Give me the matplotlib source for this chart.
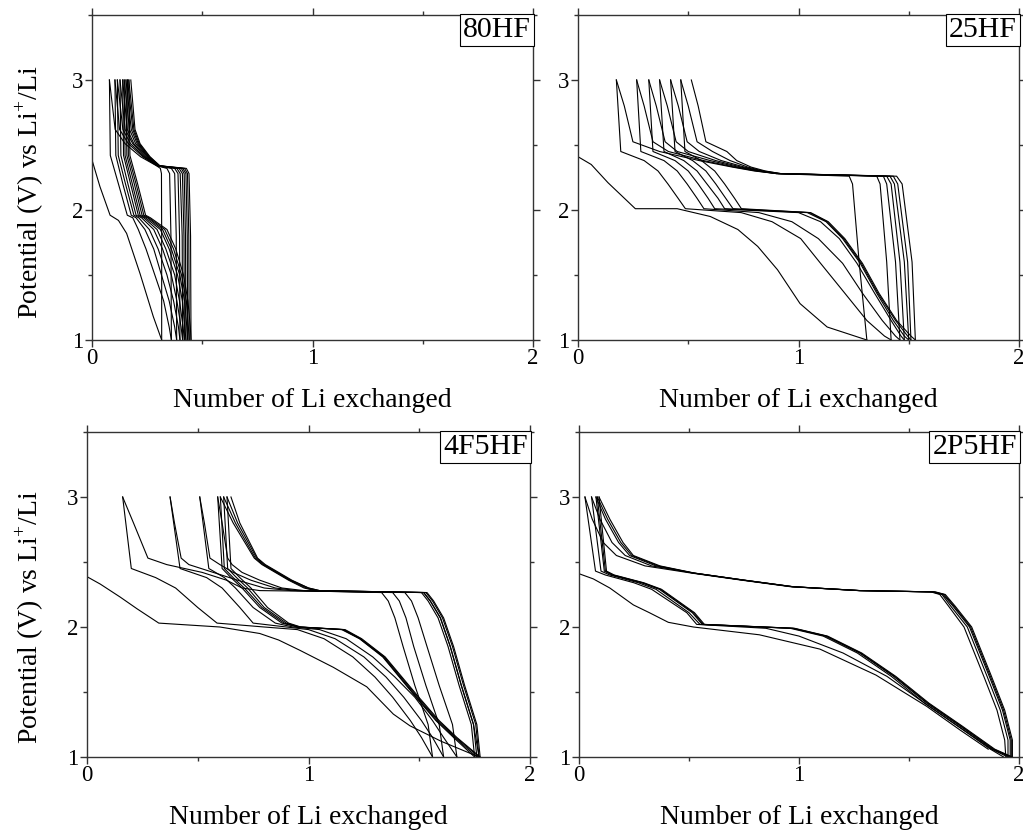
import matplotlib
matplotlib.use("Agg")
import matplotlib.pyplot as plt
from matplotlib.ticker import MultipleLocator

plt.rcParams['font.family'] = 'serif'
plt.rcParams['font.serif'] = ['Liberation Serif', 'DejaVu Serif']
plt.rcParams['mathtext.fontset'] = 'custom'
plt.rcParams['mathtext.rm'] = 'Liberation Serif'

# ---------------- 80HF ----------------
hf80_first_x = [0, 0.036, 0.082, 0.12, 0.157, 0.218, 0.278, 0.316]
hf80_first_v = [2.385, 2.18, 1.96, 1.92, 1.82, 1.51, 1.18, 1.0]
hf80_dis_v = [3.0, 2.42, 2.2, 1.96, 1.94, 1.85, 1.7, 1.5, 1.3, 1.1, 1.0]
hf80_dis_x = [
    [0.079, 0.083, 0.12, 0.16, 0.185, 0.21, 0.245, 0.285, 0.325, 0.35, 0.36],
    [0.104, 0.108, 0.14, 0.178, 0.20, 0.24, 0.28, 0.315, 0.35, 0.375, 0.384],
    [0.115, 0.119, 0.152, 0.19, 0.212, 0.26, 0.30, 0.34, 0.37, 0.392, 0.399],
    [0.127, 0.131, 0.163, 0.20, 0.225, 0.28, 0.32, 0.36, 0.385, 0.404, 0.411],
    [0.139, 0.143, 0.175, 0.21, 0.235, 0.295, 0.335, 0.375, 0.397, 0.413, 0.419],
    [0.146, 0.15, 0.183, 0.218, 0.243, 0.31, 0.35, 0.388, 0.41, 0.421, 0.426],
    [0.154, 0.158, 0.192, 0.227, 0.252, 0.32, 0.36, 0.398, 0.42, 0.43, 0.434],
    [0.161, 0.165, 0.2, 0.235, 0.258, 0.33, 0.37, 0.406, 0.428, 0.437, 0.441],
    [0.167, 0.172, 0.207, 0.243, 0.265, 0.34, 0.38, 0.415, 0.435, 0.446, 0.449],
]
hf80_chg_v = [1.0, 1.8, 2.28, 2.32, 2.34, 2.41, 2.51, 2.62, 3.0]
hf80_chg_x = [
    [0.316, 0.316, 0.315, 0.31, 0.293, 0.22, 0.15, 0.105, 0.079],
    [0.36, 0.358, 0.352, 0.34, 0.295, 0.23, 0.165, 0.125, 0.104],
    [0.384, 0.382, 0.375, 0.36, 0.297, 0.235, 0.175, 0.14, 0.115],
    [0.399, 0.397, 0.39, 0.375, 0.299, 0.24, 0.185, 0.15, 0.127],
    [0.411, 0.409, 0.40, 0.385, 0.30, 0.245, 0.19, 0.16, 0.139],
    [0.419, 0.417, 0.41, 0.395, 0.302, 0.25, 0.198, 0.17, 0.146],
    [0.426, 0.424, 0.418, 0.405, 0.304, 0.253, 0.205, 0.178, 0.154],
    [0.434, 0.432, 0.426, 0.412, 0.305, 0.256, 0.21, 0.185, 0.161],
    [0.441, 0.439, 0.433, 0.42, 0.306, 0.26, 0.214, 0.19, 0.167],
    [0.449, 0.447, 0.44, 0.428, 0.308, 0.263, 0.218, 0.195, 0.176],
]

# ---------------- 25HF ----------------
hf25_first_x = [0, 0.06, 0.136, 0.195, 0.26, 0.45, 0.60, 0.725, 0.815, 0.905, 1.007, 1.13, 1.31]
hf25_first_v = [2.41, 2.35, 2.21, 2.115, 2.01, 2.01, 1.95, 1.85, 1.72, 1.54, 1.28, 1.10, 1.0]
hf25_dis_v = [3.0, 2.45, 2.38, 2.30, 2.20, 2.09, 2.01, 1.98, 1.91, 1.78, 1.59, 1.36, 1.15, 1.03, 1.0]
hf25_dis_x = [
    [0.174, 0.194, 0.30, 0.363, 0.408, 0.454, 0.487, 0.74, 0.88, 1.01, 1.10, 1.21, 1.31, 1.39, 1.42],
    [0.266, 0.285, 0.39, 0.45, 0.495, 0.54, 0.571, 0.82, 0.97, 1.09, 1.20, 1.29, 1.38, 1.44, 1.46],
    [0.321, 0.34, 0.44, 0.50, 0.545, 0.59, 0.62, 1.0, 1.10, 1.185, 1.265, 1.345, 1.42, 1.465, 1.48],
    [0.370, 0.39, 0.48, 0.54, 0.585, 0.635, 0.665, 1.04, 1.125, 1.20, 1.28, 1.355, 1.43, 1.48, 1.50],
    [0.420, 0.44, 0.52, 0.58, 0.625, 0.67, 0.703, 1.05, 1.13, 1.205, 1.285, 1.36, 1.44, 1.495, 1.51],
    [0.466, 0.485, 0.56, 0.62, 0.665, 0.71, 0.741, 1.055, 1.135, 1.21, 1.29, 1.365, 1.445, 1.51, 1.53],
]
hf25_chg_v = [1.0, 1.6, 2.2, 2.26, 2.28, 2.30, 2.33, 2.38, 2.45, 2.525, 2.8, 3.0]
hf25_chg_x = [
    [1.31, 1.275, 1.245, 1.23, 0.90, 0.80, 0.70, 0.55, 0.37, 0.249, 0.21, 0.174],
    [1.42, 1.40, 1.37, 1.355, 0.90, 0.81, 0.71, 0.57, 0.41, 0.34, 0.30, 0.266],
    [1.46, 1.44, 1.40, 1.385, 0.90, 0.82, 0.725, 0.60, 0.45, 0.395, 0.355, 0.321],
    [1.48, 1.46, 1.42, 1.40, 0.91, 0.825, 0.74, 0.625, 0.50, 0.445, 0.405, 0.370],
    [1.50, 1.48, 1.435, 1.415, 0.91, 0.83, 0.755, 0.65, 0.55, 0.495, 0.455, 0.420],
    [1.51, 1.495, 1.45, 1.43, 0.92, 0.84, 0.77, 0.69, 0.61, 0.54, 0.50, 0.466],
    [1.53, 1.515, 1.47, 1.445, 0.92, 0.85, 0.785, 0.72, 0.675, 0.58, 0.545, 0.514],
]

# ---------------- 4F5HF ----------------
f4_first_x = [0, 0.06, 0.15, 0.226, 0.324, 0.60, 0.78, 0.865, 0.962, 1.112, 1.263, 1.383, 1.458, 1.60, 1.77]
f4_first_v = [2.387, 2.33, 2.23, 2.14, 2.03, 2.0, 1.95, 1.90, 1.82, 1.69, 1.54, 1.33, 1.24, 1.12, 1.0]
f4_dis_v = [3.0, 2.45, 2.38, 2.30, 2.15, 2.03, 2.0, 1.98, 1.91, 1.77, 1.615, 1.46, 1.28, 1.15, 1.0]
f4_dis_x = [
    [0.161, 0.20, 0.31, 0.40, 0.50, 0.587, 0.80, 0.95, 1.07, 1.20, 1.30, 1.38, 1.46, 1.51, 1.56],
    [0.375, 0.42, 0.54, 0.61, 0.69, 0.75, 0.90, 1.0, 1.12, 1.25, 1.35, 1.43, 1.51, 1.56, 1.61],
    [0.509, 0.55, 0.62, 0.67, 0.75, 0.85, 0.93, 1.05, 1.17, 1.29, 1.39, 1.48, 1.56, 1.61, 1.67],
    [0.59, 0.61, 0.65, 0.70, 0.78, 0.88, 0.95, 1.15, 1.23, 1.335, 1.41, 1.485, 1.575, 1.655, 1.75],
    [0.602, 0.62, 0.66, 0.71, 0.79, 0.89, 0.955, 1.155, 1.232, 1.338, 1.413, 1.488, 1.579, 1.66, 1.76],
    [0.617, 0.635, 0.675, 0.725, 0.80, 0.90, 0.96, 1.16, 1.236, 1.342, 1.418, 1.493, 1.585, 1.665, 1.77],
    [0.632, 0.65, 0.69, 0.74, 0.815, 0.91, 0.965, 1.165, 1.24, 1.346, 1.422, 1.498, 1.59, 1.67, 1.775],
]
f4_chg_v = [1.0, 1.25, 1.55, 1.85, 2.07, 2.2, 2.265, 2.28, 2.30, 2.36, 2.42, 2.48, 2.53, 2.8, 3.0]
f4_chg_x = [
    [1.77, 1.745, 1.69, 1.64, 1.596, 1.55, 1.52, 0.78, 0.70, 0.63, 0.52, 0.36, 0.275, 0.21, 0.161],
    [1.56, 1.54, 1.48, 1.427, 1.39, 1.36, 1.33, 0.92, 0.80, 0.68, 0.57, 0.46, 0.425, 0.395, 0.375],
    [1.61, 1.59, 1.53, 1.475, 1.44, 1.41, 1.38, 0.95, 0.85, 0.74, 0.66, 0.60, 0.555, 0.53, 0.509],
    [1.67, 1.65, 1.59, 1.535, 1.495, 1.465, 1.435, 0.98, 0.88, 0.78, 0.70, 0.655, 0.635, 0.61, 0.59],
    [1.75, 1.735, 1.68, 1.63, 1.585, 1.54, 1.51, 1.03, 0.98, 0.91, 0.85, 0.79, 0.755, 0.66, 0.602],
    [1.76, 1.745, 1.69, 1.64, 1.595, 1.55, 1.52, 1.04, 0.99, 0.915, 0.855, 0.795, 0.76, 0.67, 0.617],
    [1.77, 1.755, 1.70, 1.65, 1.605, 1.56, 1.53, 1.05, 1.0, 0.92, 0.86, 0.80, 0.766, 0.68, 0.632],
    [1.775, 1.76, 1.705, 1.655, 1.61, 1.565, 1.535, 1.05, 1.0, 0.925, 0.865, 0.805, 0.77, 0.69, 0.65],
]

# ---------------- 2P5HF ----------------
p2_first_x = [0, 0.065, 0.14, 0.247, 0.32, 0.406, 0.52, 0.82, 1.095, 1.35, 1.58, 1.73, 1.86]
p2_first_v = [2.41, 2.37, 2.30, 2.17, 2.11, 2.036, 2.0, 1.94, 1.83, 1.63, 1.39, 1.21, 1.06]
p2_dis_v = [3.0, 2.43, 2.40, 2.34, 2.29, 2.11, 2.02, 1.99, 1.93, 1.80, 1.62, 1.415, 1.24, 1.06, 1.0]
p2_dis_x = [
    [0.027, 0.075, 0.12, 0.25, 0.33, 0.49, 0.535, 0.85, 1.0, 1.2, 1.40, 1.57, 1.72, 1.87, 1.93],
    [0.057, 0.10, 0.14, 0.27, 0.35, 0.50, 0.55, 0.96, 1.11, 1.265, 1.42, 1.57, 1.72, 1.875, 1.95],
    [0.077, 0.115, 0.15, 0.285, 0.365, 0.515, 0.56, 0.97, 1.12, 1.275, 1.43, 1.58, 1.73, 1.88, 1.96],
    [0.083, 0.12, 0.155, 0.29, 0.37, 0.52, 0.565, 0.975, 1.125, 1.28, 1.435, 1.585, 1.735, 1.885, 1.965],
    [0.091, 0.125, 0.16, 0.295, 0.375, 0.525, 0.57, 0.98, 1.13, 1.285, 1.44, 1.59, 1.74, 1.89, 1.97],
]
p2_chg_v = [1.0, 1.13, 1.36, 1.62, 2.0, 2.16, 2.25, 2.27, 2.28, 2.31, 2.36, 2.415, 2.47, 2.55, 2.65, 2.83, 3.0]
p2_chg_x = [
    [1.94, 1.935, 1.90, 1.84, 1.75, 1.68, 1.64, 1.60, 1.27, 0.96, 0.74, 0.51, 0.30, 0.17, 0.11, 0.06, 0.027],
    [1.95, 1.95, 1.915, 1.855, 1.765, 1.69, 1.65, 1.605, 1.275, 0.97, 0.75, 0.52, 0.33, 0.21, 0.15, 0.095, 0.057],
    [1.96, 1.96, 1.925, 1.865, 1.775, 1.70, 1.655, 1.61, 1.276, 0.97, 0.75, 0.52, 0.35, 0.23, 0.18, 0.12, 0.077],
    [1.965, 1.965, 1.93, 1.87, 1.78, 1.705, 1.66, 1.615, 1.277, 0.97, 0.75, 0.52, 0.36, 0.24, 0.19, 0.13, 0.083],
    [1.97, 1.97, 1.935, 1.875, 1.785, 1.71, 1.665, 1.62, 1.28, 0.975, 0.755, 0.525, 0.368, 0.247, 0.20, 0.14, 0.091],
]

panels = [
    ("80HF", hf80_first_x, hf80_first_v, hf80_dis_v, hf80_dis_x, hf80_chg_v, hf80_chg_x),
    ("25HF", hf25_first_x, hf25_first_v, hf25_dis_v, hf25_dis_x, hf25_chg_v, hf25_chg_x),
    ("4F5HF", f4_first_x, f4_first_v, f4_dis_v, f4_dis_x, f4_chg_v, f4_chg_x),
    ("2P5HF", p2_first_x, p2_first_v, p2_dis_v, p2_dis_x, p2_chg_v, p2_chg_x),
]

W, H = 1023, 832
# axes boxes in pixels: left, right, top, bottom
boxes = [(92, 533, 15, 340), (578, 1019, 15, 340), (87, 530, 432, 757), (579, 1019, 432, 757)]

fig = plt.figure(figsize=(W / 100, H / 100), dpi=100)
lw = 0.8

for (name, fx, fv, dv, dxs, cv, cxs), (l, r, t, b) in zip(panels, boxes):
    ax = fig.add_axes([l / W, 1 - b / H, (r - l) / W, (b - t) / H])
    ax.plot(fx, fv, color='black', lw=lw)
    for xs in dxs:
        ax.plot(xs, dv, color='black', lw=lw)
    for xs in cxs:
        ax.plot(xs, cv, color='black', lw=lw)
    ax.set_xlim(0, 2)
    ax.set_ylim(1, 3.5)
    ax.xaxis.set_major_locator(MultipleLocator(1))
    ax.xaxis.set_minor_locator(MultipleLocator(0.5))
    ax.yaxis.set_major_locator(MultipleLocator(1))
    ax.yaxis.set_minor_locator(MultipleLocator(0.5))
    ax.tick_params(which='both', direction='out', top=True, right=True,
                   labelsize=16.5, color='#333333', width=1)
    ax.tick_params(which='major', length=5, pad=1)
    ax.tick_params(which='minor', length=3)
    for s in ax.spines.values():
        s.set_color('#333333')
        s.set_linewidth(1)
    ax.text(0.995, 0.994, name, transform=ax.transAxes, ha='right', va='top',
            fontsize=21.5, bbox=dict(boxstyle='square,pad=0.1', fc='white', ec='black', lw=0.8))
    # x label
    fig.text((l + r) / 2 / W, 1 - (b + 60) / H, "Number of Li exchanged",
             ha='center', va='center', fontsize=20)

ylab = "Potential (V) vs Li$^{+}$/Li"
fig.text(30 / W, 1 - 192 / H, ylab, rotation=90, ha='center', va='center', fontsize=20)
fig.text(30 / W, 1 - 617 / H, ylab, rotation=90, ha='center', va='center', fontsize=20)

fig.savefig("out.png", dpi=100)
